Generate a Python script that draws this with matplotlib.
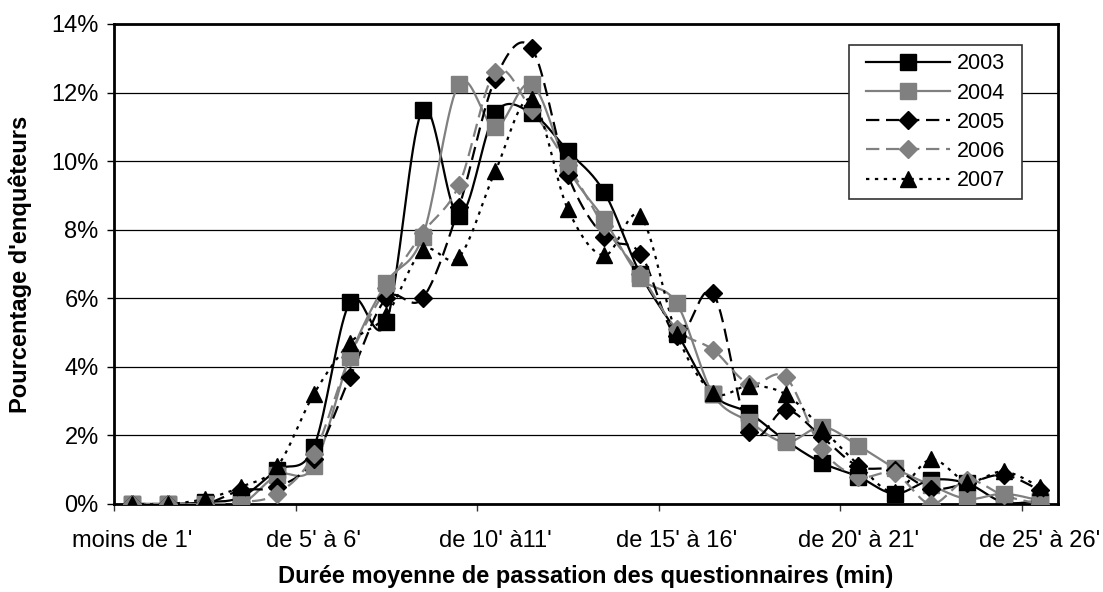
import numpy as np
import matplotlib
matplotlib.use('Agg')
import matplotlib.pyplot as plt
from matplotlib.patches import Rectangle
from matplotlib.ticker import FuncFormatter

plt.rcParams['font.family'] = ['Liberation Sans', 'DejaVu Sans']

# 26 categories : moins de 1', de 1' a 2', ... de 25' a 26'
n_cat = 26
tick_pos = [0, 5, 10, 15, 20, 25]
tick_labels = ["moins de 1'", "de 5' à 6'", "de 10' à11'", "de 15' à 16'",
               "de 20' à 21'", "de 25' à 26'"]

years = ['2003', '2004', '2005', '2006', '2007']

# pourcentages
y2003 = [0, 0, 0.05, 0.2, 1.0, 1.65, 5.9, 5.3, 11.5, 8.4, 11.4, 11.4, 10.3,
         9.1, 6.7, 5.0, 3.2, 2.65, 1.85, 1.2, 0.8, 0.3, 0.7, 0.6, 0.05, 0.1]
y2004 = [0, 0, 0, 0, 0.85, 1.1, 4.3, 6.45, 7.8, 12.25, 11.0, 12.25, 9.8,
         8.3, 6.6, 5.85, 3.2, 2.4, 1.8, 2.25, 1.7, 1.05, 0.55, 0.15, 0.3, 0.1]
y2005 = [0, 0, 0, 0.4, 0.5, 1.3, 3.7, 6.0, 6.0, 8.65, 12.4, 13.3, 9.6,
         7.8, 7.3, 4.9, 6.15, 2.1, 2.75, 1.95, 1.1, 1.0, 0.45, 0.6, 0.85, 0.4]
y2006 = [0, 0, 0, 0.05, 0.3, 1.45, 4.3, 6.3, 7.9, 9.3, 12.6, 11.5, 9.9,
         8.1, 6.7, 5.1, 4.5, 3.5, 3.7, 1.6, 0.8, 0.9, 0.0, 0.7, 0.25, 0.0]
y2007 = [0, 0, 0.15, 0.5, 1.1, 3.2, 4.7, 5.5, 7.4, 7.2, 9.7, 11.8, 8.6,
         7.25, 8.4, 4.95, 3.25, 3.45, 3.2, 2.2, 1.15, 0.35, 1.3, 0.65, 0.95, 0.5]

series = [y2003, y2004, y2005, y2006, y2007]
colors = ['black', '#808080', 'black', '#808080', 'black']
styles = ['-', '-', (0, (6, 3)), (0, (6, 3)), (0, (1.5, 2.5))]
markers = ['s', 's', 'D', 'D', '^']
msizes = [11, 11, 9, 9, 11]


def smooth(x, y, n=20):
    # courbe lissee type Excel (Catmull-Rom en Bezier)
    x = np.asarray(x, float)
    y = np.asarray(y, float)
    px = np.concatenate([[x[0]], x, [x[-1]]])
    py = np.concatenate([[y[0]], y, [y[-1]]])
    xs, ys = [], []
    t = np.linspace(0, 1, n)
    for i in range(1, len(px) - 2):
        p0 = np.array([px[i], py[i]])
        p3 = np.array([px[i + 1], py[i + 1]])
        p1 = p0 + (np.array([px[i + 1], py[i + 1]]) - np.array([px[i - 1], py[i - 1]])) / 6
        p2 = p3 - (np.array([px[i + 2], py[i + 2]]) - np.array([px[i], py[i]])) / 6
        b = ((1 - t) ** 3)[:, None] * p0 + (3 * (1 - t) ** 2 * t)[:, None] * p1 \
            + (3 * (1 - t) * t ** 2)[:, None] * p2 + (t ** 3)[:, None] * p3
        xs.extend(b[:, 0])
        ys.extend(b[:, 1])
    return np.array(xs), np.array(ys)


W, H = 1103, 592
fig = plt.figure(figsize=(W / 100, H / 100), dpi=100)
ax = fig.add_axes([114 / W, 1 - 504 / H, (1058 - 114) / W, (504 - 24) / H])

x = np.arange(n_cat)
for k in range(len(years)):
    sx, sy = smooth(x, series[k])
    ax.plot(sx, sy, color=colors[k], linestyle=styles[k], lw=1.6, zorder=3)
    ax.plot(x, series[k], linestyle='none', marker=markers[k], ms=msizes[k],
            color=colors[k], zorder=4)
    # entree de legende
    ax.plot([], [], color=colors[k], linestyle=styles[k], lw=1.6,
            marker=markers[k], ms=msizes[k], label=years[k])

ax.set_xlim(-0.5, n_cat - 0.5)
ax.set_ylim(0, 14)
ax.set_yticks(np.arange(0, 15, 2))
ax.yaxis.set_major_formatter(FuncFormatter(lambda v, p: '%d%%' % v))
ax.grid(axis='y', color='black', lw=0.9)
ax.set_axisbelow(True)

ax.set_xticks([-0.5, 4.5, 9.5, 14.5, 19.5, 24.5])
ax.set_xticklabels([])
ax.set_xticks(tick_pos, minor=True)
ax.set_xticklabels(tick_labels, minor=True)
ax.tick_params(axis='x', which='minor', length=0, pad=19, labelsize=17)
ax.tick_params(axis='x', which='major', length=5, width=1, color='#333333')
ax.tick_params(axis='y', length=5, width=1, labelsize=17, pad=6)

for s in ax.spines.values():
    s.set_linewidth(2)
    s.set_color('black')

ax.set_xlabel('Durée moyenne de passation des questionnaires (min)',
              fontsize=17, fontweight='bold', labelpad=9)
ax.set_ylabel("Pourcentage d'enquêteurs", fontsize=17, fontweight='bold', labelpad=14)

# cadre de la legende
box = Rectangle((849 / W, 1 - 199 / H), (1022 - 849) / W, (199 - 45) / H,
                transform=fig.transFigure, facecolor='white', edgecolor='#333333',
                lw=1.2, zorder=4.5)
ax.add_artist(box)
box.set_clip_on(False)

leg = ax.legend(loc='upper left', bbox_to_anchor=((860 - 114) / 944, (504 - 47) / 480),
                fontsize=15.5, handlelength=3.9, frameon=False,
                labelspacing=0.38, borderpad=0.3, handletextpad=0.3,
                borderaxespad=0)
leg.set_zorder(5)

fig.savefig('out.png', dpi=100)
